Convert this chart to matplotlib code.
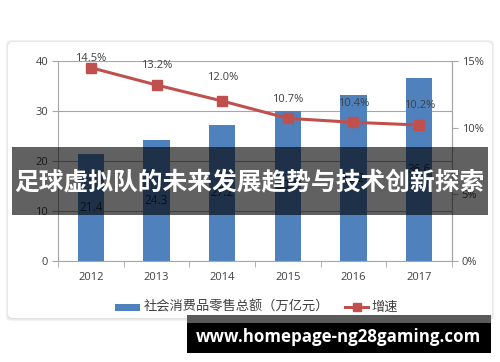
import matplotlib
matplotlib.use("Agg")
import matplotlib.pyplot as plt
from matplotlib.patches import FancyBboxPatch, Rectangle
from matplotlib.ticker import FixedLocator, FuncFormatter

years = ["2012", "2013", "2014", "2015", "2016", "2017"]
retail = [21.4, 24.3, 27.2, 30.1, 33.2, 36.6]
growth = [14.5, 13.2, 12.0, 10.7, 10.4, 10.2]
growth_labels = ["14.5%", "13.2%", "12.0%", "10.7%", "10.4%", "10.2%"]
left_ticks = [0, 10, 20, 30, 40]
right_ticks = [0, 5, 10, 15]
bar_name = "社会消费品零售总额（万亿元）"
line_name = "增速"
title = "足球虚拟队的未来发展趋势与技术创新探索"
site = "www.homepage-ng28gaming.com"
label_dy = [9, 19, 24, 19, 19, 19]

W, H = 500, 362
BLUE = "#4F81BD"
RED = "#C0504D"
GRID = "#A6A6A6"
TXT = "#404040"

fig = plt.figure(figsize=(W / 100, H / 100), dpi=100)
fig.patch.set_facecolor("white")

def fx(px):
    return px / W

def fy(py):
    return 1 - py / H

# card with shadow
for d, c in [(3, "#f1f1f1"), (2, "#e9e9e9"), (1, "#e2e2e2")]:
    fig.patches.append(FancyBboxPatch((fx(8 - d + 1), fy(318 + d)), fx(484 + 2 * d - 2), (276 + 2 * d - 1) / H,
                                      boxstyle="round,pad=0,rounding_size=0.012", transform=fig.transFigure,
                                      facecolor=c, edgecolor="none", zorder=-3))
fig.patches.append(FancyBboxPatch((fx(8), fy(318)), fx(484), 276 / H,
                                  boxstyle="round,pad=0,rounding_size=0.012", transform=fig.transFigure,
                                  facecolor="white", edgecolor="none", zorder=-2))

ax = fig.add_axes([fx(58), fy(261), fx(452 - 58), (261 - 61) / H])
ax.set_facecolor("none")
x = list(range(len(years)))
bars = ax.bar(x, retail, width=0.4, color=BLUE, zorder=2)
ax.bar_label(bars, labels=[f"{v:.1f}" for v in retail], label_type="center",
             fontsize=8.5, color="#1f2a3a", family="Open Sans")
ax.set_xlim(-0.5, len(years) - 0.5)
ax.set_ylim(0, 40)
ax.yaxis.set_major_locator(FixedLocator(left_ticks))
ax.grid(axis="y", color=GRID, linewidth=0.8, zorder=0)
ax.set_axisbelow(True)
ax.set_xticks(x)
ax.set_xticklabels(years, fontsize=8, color=TXT, family="Open Sans")
ax.xaxis.set_minor_locator(FixedLocator([i - 0.5 for i in range(len(years) + 1)]))
ax.tick_params(axis="x", which="major", length=0, pad=8)
ax.tick_params(axis="x", which="minor", length=4, color=GRID, direction="out")
ax.tick_params(axis="y", length=4, color=GRID, labelsize=8, labelcolor=TXT, pad=3)
for lbl in ax.get_yticklabels():
    lbl.set_family("Open Sans")
ax.spines["top"].set_visible(False)
for s in ["left", "right", "bottom"]:
    ax.spines[s].set_color(GRID)
    ax.spines[s].set_linewidth(0.8)

ax2 = ax.twinx()
ax2.set_ylim(0, 15)
ax2.yaxis.set_major_locator(FixedLocator(right_ticks))
ax2.yaxis.set_major_formatter(FuncFormatter(lambda v, p: f"{v:.0f}%"))
ax2.tick_params(axis="y", length=4, color=GRID, labelsize=8, labelcolor=TXT, pad=3)
for lbl in ax2.get_yticklabels():
    lbl.set_family("Open Sans")
for s in ["top", "left", "bottom"]:
    ax2.spines[s].set_visible(False)
ax2.spines["right"].set_color(GRID)
ax2.spines["right"].set_linewidth(0.8)
ax2.plot(x, growth, color=RED, linewidth=2.2, marker="s", markersize=7, zorder=3)
for xi, g, t, dy in zip(x, growth, growth_labels, label_dy):
    ax2.annotate(t, (xi, g), xytext=(0, dy), textcoords="offset pixels", ha="center", va="center",
                 fontsize=8, color=TXT, family="Open Sans", annotation_clip=False)

# legend
ly = fy(307)
fig.patches.append(Rectangle((fx(115), ly - 3.5 / H), fx(25), 7 / H, transform=fig.transFigure,
                             facecolor=BLUE, edgecolor="none", zorder=2))
fig.text(fx(144), ly, bar_name, fontsize=9.5, color=TXT, va="center", ha="left",
         family=["Noto Sans CJK SC", "DejaVu Sans"])
fig.lines.append(plt.Line2D([fx(345), fx(368)], [ly, ly], transform=fig.transFigure, color=RED,
                            linewidth=2.2, zorder=2))
fig.lines.append(plt.Line2D([fx(356.5)], [ly], transform=fig.transFigure, color=RED, linestyle="none",
                            marker="s", markersize=6, zorder=2))
fig.text(fx(371), ly, line_name, fontsize=9.5, color=TXT, va="center", ha="left",
         family=["Noto Sans CJK SC", "DejaVu Sans"])

# title banner
fig.patches.append(Rectangle((fx(12), fy(215)), fx(476), 68 / H, transform=fig.transFigure,
                             facecolor="black", alpha=0.62, edgecolor="none", zorder=10))
fig.text(0.498, fy(182), title, fontsize=17.8, fontweight="bold", color="white", ha="center", va="center",
         family=["Noto Sans CJK SC", "DejaVu Sans"], zorder=11)

# site banner
fig.patches.append(Rectangle((fx(187), fy(323)), fx(304), 8 / H, transform=fig.transFigure,
                             facecolor="#5a5a5a", edgecolor="none", zorder=10))
fig.patches.append(Rectangle((fx(187), fy(353)), fx(304), 30 / H, transform=fig.transFigure,
                             facecolor="black", edgecolor="none", zorder=10))
fig.text(fx(338), fy(337), site, fontsize=12.2, fontweight="bold", color="white", ha="center", va="center",
         family=["Open Sans", "DejaVu Sans"], zorder=11)

fig.savefig("out.png", dpi=100)
